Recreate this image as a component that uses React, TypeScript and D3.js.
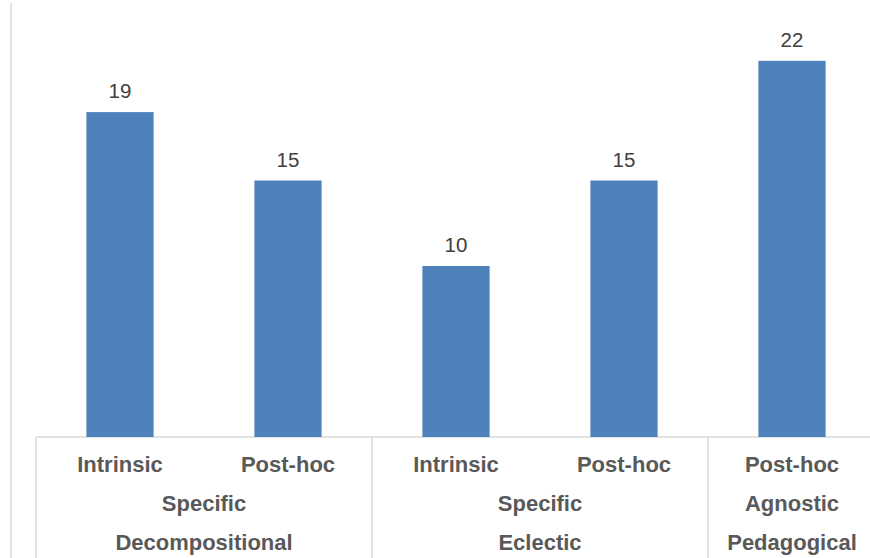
import {useEffect, useRef} from "react";
import * as d3 from 'd3'

const categories = ["Intrinsic", "Post-hoc", "Intrinsic", "Post-hoc", "Post-hoc"]
const values = [19, 15, 10, 15, 22]
const level2 = ["Specific", "Specific", "Agnostic"]
const level3 = ["Decompositional", "Eclectic", "Pedagogical"]
const groupSizes = [2, 2, 1]

const W = 870
const H = 558

const App = () => {
    const svgRef = useRef<SVGSVGElement>(null)

    useEffect(() => {
        const svg = d3.select(svgRef.current)
        svg.selectAll("*").remove()

        const left = 36
        const right = 876
        const baseY = 437

        const x = d3.scaleBand<number>()
            .domain(d3.range(values.length))
            .range([left, right])
            .paddingInner(0.6)
            .paddingOuter(0.3)
        const step = (right - left) / values.length

        const y = d3.scaleLinear().domain([0, 25]).range([baseY, 9.5])

        // left axis line
        svg.append("line")
            .attr("x1", 11).attr("x2", 11)
            .attr("y1", 3).attr("y2", H)
            .attr("stroke", "#d9d9d9").attr("stroke-width", 1.5)

        // horizontal baseline
        svg.append("line")
            .attr("x1", left).attr("x2", W)
            .attr("y1", baseY).attr("y2", baseY)
            .attr("stroke", "#d9d9d9").attr("stroke-width", 1.5)

        // group separators
        let acc = 0
        const bounds = [0]
        groupSizes.forEach(s => { acc += s; bounds.push(acc) })
        bounds.slice(0, -1).forEach(b => {
            svg.append("line")
                .attr("x1", left + b * step).attr("x2", left + b * step)
                .attr("y1", baseY).attr("y2", H)
                .attr("stroke", "#d9d9d9").attr("stroke-width", 1.5)
        })

        svg.selectAll("rect.bar")
            .data(values)
            .join("rect")
            .attr("class", "bar")
            .attr("x", (d, i) => x(i)!)
            .attr("width", x.bandwidth())
            .attr("y", d => y(d))
            .attr("height", d => baseY - y(d))
            .attr("fill", "#4f81bd")

        svg.selectAll("text.val")
            .data(values)
            .join("text")
            .attr("class", "val")
            .attr("x", (d, i) => x(i)! + x.bandwidth() / 2)
            .attr("y", d => y(d) - 14)
            .attr("text-anchor", "middle")
            .attr("font-family", "Liberation Sans, Arial, sans-serif")
            .attr("font-size", 20.5)
            .attr("fill", "#404040")
            .text(d => d)

        svg.selectAll("text.cat")
            .data(categories)
            .join("text")
            .attr("class", "cat")
            .attr("x", (d, i) => x(i)! + x.bandwidth() / 2)
            .attr("y", 472)
            .attr("text-anchor", "middle")
            .attr("font-family", "Liberation Sans, Arial, sans-serif")
            .attr("font-weight", "bold")
            .attr("font-size", 22)
            .attr("fill", "#595959")
            .text(d => d)

        const groupCenter = (g: number) => left + (bounds[g] + bounds[g + 1]) / 2 * step

        ;[level2, level3].forEach((lv, li) => {
            svg.selectAll("text.lv" + li)
                .data(lv)
                .join("text")
                .attr("class", "lv" + li)
                .attr("x", (d, i) => groupCenter(i))
                .attr("y", 511 + li * 39)
                .attr("text-anchor", "middle")
                .attr("font-family", "Liberation Sans, Arial, sans-serif")
                .attr("font-weight", "bold")
                .attr("font-size", 22)
                .attr("fill", "#595959")
                .text(d => d)
        })
    }, [])

    return (
        <svg ref={svgRef} width={W} height={H}
             style={{position: "absolute", left: 0, top: 0, background: "#fff"}}/>
    )
}

export default App
